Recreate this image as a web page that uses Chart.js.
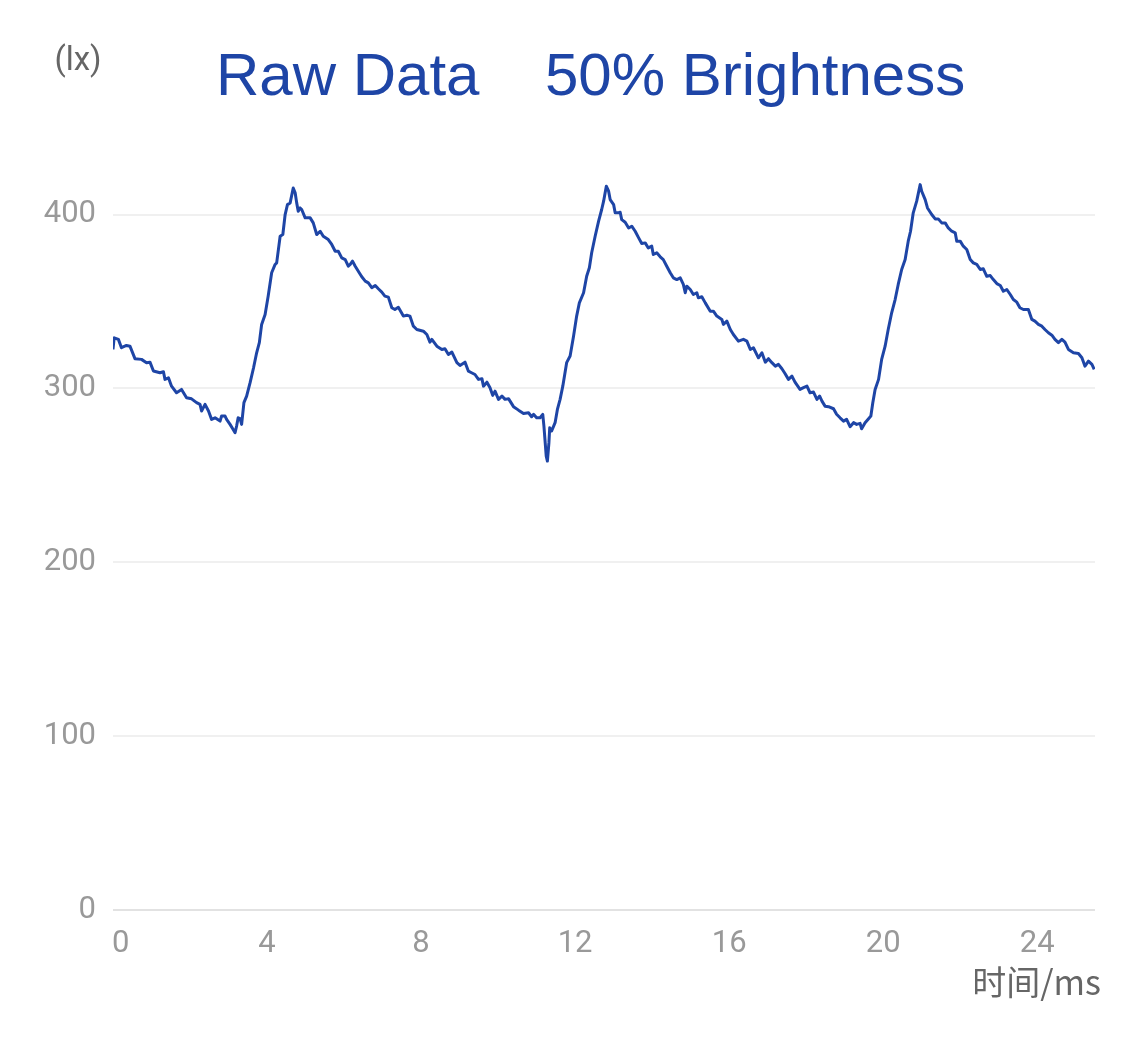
<!DOCTYPE html>
<html>
<head>
<meta charset="utf-8">
<script src="https://cdn.jsdelivr.net/npm/chart.js@4/dist/chart.umd.min.js"></script>
<style>
  html, body { margin: 0; padding: 0; background: #ffffff; }
  #wrap { width: 1125px; height: 1040px; }
</style>
</head>
<body>
<div id="wrap"><canvas id="c" width="1125" height="1040"></canvas></div>
<script>
// ---- data ----
const chartTitleLeft = "Raw Data";
const chartTitleRight = "50% Brightness";
const yUnitLabel = "(lx)";
const xAxisLabel = "时间/ms";
const yTickValues = [0, 100, 200, 300, 400];
const xTickValues = [0, 4, 8, 12, 16, 20, 24];

const timeMs = [
  0.00, 0.03, 0.14, 0.22, 0.35, 0.44, 0.57, 0.74, 0.87, 0.96,
  1.05, 1.22, 1.31, 1.35, 1.44, 1.52, 1.65, 1.78, 1.91, 2.04,
  2.17, 2.26, 2.30, 2.39, 2.48, 2.56, 2.65, 2.78, 2.82, 2.91,
  2.95, 3.04, 3.12, 3.17, 3.21, 3.25, 3.30, 3.34, 3.40, 3.47,
  3.56, 3.65, 3.73, 3.80, 3.86, 3.95, 4.03, 4.12, 4.21, 4.25,
  4.34, 4.41, 4.47, 4.53, 4.60, 4.68, 4.73, 4.77, 4.81, 4.86,
  4.90, 4.99, 5.12, 5.20, 5.29, 5.38, 5.46, 5.59, 5.68, 5.77,
  5.85, 5.94, 6.03, 6.11,
  6.16, 6.22, 6.29, 6.37, 6.46, 6.55, 6.63, 6.72, 6.81, 6.89,
  6.98, 7.06, 7.15, 7.24, 7.32, 7.41, 7.54, 7.63, 7.71, 7.80,
  7.89, 8.06, 8.15, 8.23, 8.28, 8.41, 8.54, 8.62, 8.71, 8.80,
  8.93, 9.01, 9.14, 9.23, 9.31, 9.40, 9.49, 9.58, 9.62, 9.71,
  9.79, 9.86, 9.92, 10.01, 10.10, 10.18, 10.27, 10.40, 10.53, 10.66,
  10.79, 10.87, 10.92, 11.00, 11.09, 11.16, 11.19, 11.25, 11.28, 11.32,
  11.34, 11.39, 11.48, 11.54, 11.61, 11.68, 11.78, 11.87, 11.96, 12.04,
  12.11,
  12.22, 12.30, 12.37, 12.43, 12.52, 12.61, 12.69, 12.74, 12.81, 12.87,
  12.91, 13.00, 13.04, 13.13, 13.17, 13.21, 13.30, 13.39, 13.47, 13.56,
  13.65, 13.73, 13.82, 13.90, 13.99, 14.03, 14.12, 14.21, 14.29, 14.38,
  14.47, 14.55, 14.64, 14.73, 14.81, 14.86, 14.90, 14.99, 15.07, 15.16,
  15.20, 15.29, 15.38, 15.51, 15.59, 15.68, 15.81, 15.85, 15.94, 16.03,
  16.11, 16.24, 16.37, 16.46, 16.55, 16.63, 16.76, 16.85, 16.94, 17.02,
  17.11, 17.20, 17.28, 17.37, 17.45, 17.54, 17.63, 17.71, 17.84, 17.93,
  18.02, 18.10, 18.19, 18.28, 18.35, 18.41, 18.49,
  18.58, 18.71, 18.79, 18.88, 18.97, 19.05, 19.14, 19.23, 19.31, 19.40,
  19.44, 19.53, 19.62, 19.68, 19.73, 19.79, 19.88, 19.96, 20.05, 20.13,
  20.22, 20.31, 20.39, 20.48, 20.57, 20.65, 20.71, 20.78, 20.87, 20.96,
  21.00, 21.09, 21.15, 21.26, 21.35, 21.43, 21.52, 21.61, 21.69, 21.78,
  21.87, 21.91, 22.00, 22.08, 22.17, 22.26, 22.34, 22.43, 22.52, 22.60,
  22.69, 22.78, 22.86, 22.95, 23.04, 23.12, 23.21, 23.30, 23.38, 23.47,
  23.55, 23.64, 23.77, 23.86, 23.94, 24.03, 24.12, 24.20, 24.29, 24.38,
  24.46, 24.55, 24.64, 24.72, 24.81, 24.94, 25.07, 25.16, 25.24, 25.33,
  25.42, 25.48
];

const luxValues = [
  322.4, 329.1, 328.2, 323.4, 324.7, 324.3, 317.1, 316.7, 314.8, 315.1,
  310.0, 309.0, 309.6, 305.2, 306.1, 301.3, 297.5, 299.4, 294.6, 294.0,
  291.8, 290.8, 287.0, 290.8, 287.0, 282.2, 283.1, 281.2, 284.1, 284.1,
  282.2, 279.3, 276.4, 274.5, 278.4, 283.1, 282.6, 279.3, 291.8, 295.6,
  303.3, 311.9, 320.5, 326.3, 336.8, 342.5, 353.1, 366.5, 371.3, 372.2,
  387.5, 388.5, 400.0, 405.7, 406.7, 415.3, 412.5, 406.7, 401.9, 403.8,
  402.9, 398.1, 398.1, 395.2, 388.5, 390.4, 387.5, 385.6, 382.8, 378.9,
  378.9, 375.1, 374.1, 370.3,
  371.3, 373.2, 370.3, 367.4, 364.2, 361.7, 360.7, 357.9, 359.2, 357.3,
  355.4, 353.1, 352.5, 346.4, 345.4, 346.7, 341.6, 342.1, 341.6, 335.8,
  333.9, 332.9, 331.0, 326.6, 328.2, 324.3, 322.4, 322.8, 319.5, 320.9,
  314.8, 313.2, 315.1, 309.9, 309.0, 308.0, 305.2, 305.6, 301.3, 303.6,
  300.4, 296.0, 298.4, 293.7, 295.6, 293.7, 294.1, 289.5, 287.5, 285.6,
  286.0, 283.7, 285.1, 283.1, 283.1, 285.1, 278.3, 261.1, 258.2, 268.8,
  277.4, 275.5, 280.3, 287.9, 293.7, 301.3, 314.8, 318.6, 330.1, 341.6,
  349.2,
  355.0, 364.5, 369.4, 378.0, 387.5, 396.2, 402.9, 407.7, 416.3, 413.4,
  408.6, 405.7, 401.0, 401.0, 401.3, 397.1, 395.6, 392.3, 393.3, 390.4,
  386.6, 383.3, 383.7, 380.8, 381.8, 377.0, 378.0, 375.7, 374.1, 370.3,
  366.5, 363.6, 362.6, 363.6, 359.8, 355.0, 358.8, 356.9, 354.0, 355.0,
  352.1, 352.7, 349.2, 344.4, 344.4, 341.6, 339.7, 336.8, 338.7, 333.9,
  331.0, 327.2, 328.2, 327.2, 322.4, 323.4, 317.6, 320.5, 315.1, 317.1,
  314.8, 312.8, 313.8, 311.3, 308.6, 305.2, 307.1, 303.6, 299.4, 300.4,
  301.3, 297.5, 297.9, 293.7, 295.6, 292.7, 289.8,
  289.5, 288.3, 285.1, 283.1, 281.2, 282.2, 278.0, 280.3, 279.3, 279.9,
  276.8, 280.3, 282.6, 284.1, 291.8, 299.4, 305.2, 316.7, 324.3, 333.9,
  343.5, 351.1, 359.8, 368.4, 374.1, 384.7, 390.4, 401.0, 407.7, 417.2,
  413.4, 408.6, 403.8, 400.0, 397.5, 397.5, 395.2, 395.2, 392.3, 390.4,
  389.5, 384.7, 384.7, 381.8, 379.9, 374.1, 372.2, 371.3, 368.4, 368.8,
  364.5, 364.9, 362.6, 360.3, 359.2, 355.9, 356.9, 354.0, 351.1, 349.6,
  346.4, 345.4, 345.4, 339.7, 338.7, 336.8, 335.8, 333.9, 332.0, 330.6,
  328.2, 326.3, 328.2, 326.6, 322.4, 320.5, 320.1, 317.6, 312.8, 315.7,
  313.8, 310.9
];

// ---- chart ----
const points = timeMs.map((t, i) => ({ x: t, y: luxValues[i] }));
const tickFont = { family: "Roboto, 'Liberation Sans', sans-serif", size: 31 };

const textPlugin = {
  id: 'texts',
  afterDraw(chart) {
    const ctx = chart.ctx;
    ctx.save();
    ctx.fillStyle = '#1e45a6';
    ctx.font = "60px 'Liberation Sans', Arial, sans-serif";
    ctx.textBaseline = 'alphabetic';
    ctx.textAlign = 'left';
    ctx.fillText(chartTitleLeft, 216, 95);
    ctx.fillText(chartTitleRight, 545, 95);

    ctx.fillStyle = '#666666';
    ctx.font = "33px Roboto, 'Noto Sans CJK SC', sans-serif";
    ctx.textBaseline = 'middle';
    ctx.textAlign = 'center';
    ctx.fillText(yUnitLabel, 78, 62);
    ctx.textAlign = 'right';
    ctx.font = "34px 'Noto Sans CJK SC', sans-serif";
    ctx.fillText(xAxisLabel, 1101, 982);
    ctx.restore();
  }
};

new Chart(document.getElementById('c'), {
  type: 'line',
  data: {
    datasets: [{
      data: points,
      borderColor: '#1e45a6',
      borderWidth: 3,
      borderJoinStyle: 'round',
      pointRadius: 0,
      tension: 0,
      fill: false
    }]
  },
  options: {
    responsive: false,
    animation: false,
    layout: { padding: { top: 145, right: 30, left: 0, bottom: 0 } },
    plugins: { legend: { display: false }, title: { display: false }, tooltip: { enabled: false } },
    scales: {
      x: {
        type: 'linear',
        min: 0,
        max: 25.5,
        afterFit(scale) { scale.height = 130; },
        afterBuildTicks(scale) {
          scale.ticks = xTickValues.map(v => ({ value: v }));
        },
        ticks: {
          autoSkip: false,
          color: '#999999',
          font: tickFont,
          padding: 16,
          maxRotation: 0,
          callback: (v) => (v === 0 ? '  0' : String(v))
        },
        grid: { display: false, drawTicks: false },
        border: { display: false }
      },
      y: {
        min: 0,
        max: 440,
        afterFit(scale) { scale.width = 113; },
        afterBuildTicks(scale) {
          scale.ticks = yTickValues.map(v => ({ value: v }));
        },
        ticks: { color: '#999999', font: tickFont, padding: 17 },
        grid: {
          drawTicks: false,
          lineWidth: 2,
          color: (c) => (c.tick && c.tick.value === 0) ? '#e2e2e2' : '#f0f0f0'
        },
        border: { display: false }
      }
    }
  },
  plugins: [textPlugin]
});
</script>
</body>
</html>
